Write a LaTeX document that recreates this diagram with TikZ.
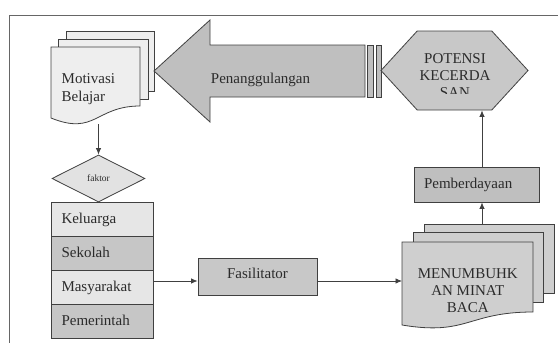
\documentclass[tikz,border=0pt]{standalone}
\usepackage{fontspec}
\setmainfont{Liberation Serif}
\newfontfamily\diagfont{Liberation Serif}
\usetikzlibrary{arrows.meta,shapes.geometric,shapes.symbols}
\definecolor{framegray}{HTML}{666666}
\definecolor{edgegray}{HTML}{404040}
\definecolor{inkgray}{HTML}{2B2B2B}
\definecolor{paperlight}{HTML}{EEEEEE}
\definecolor{papermid}{HTML}{CFCFCF}
\definecolor{arrowgray}{HTML}{BFBFBF}
\definecolor{hexgray}{HTML}{C8C8C8}
\definecolor{rowlight}{HTML}{E6E6E6}
\definecolor{rowdark}{HTML}{C6C6C6}
\definecolor{diamondgray}{HTML}{E2E2E2}

\begin{document}
\begin{tikzpicture}[x=1pt,y=-1pt,>=Latex,
 pg/.style={draw=edgegray,line width=0.8pt},
 lbl/.style={inner sep=0pt,text=inkgray,font=\diagfont\fontsize{15}{17}\selectfont},
 row/.style={draw=edgegray,line width=0.8pt,minimum width=102pt,minimum height=34pt,text width=81pt,inner xsep=10.5pt,inner ysep=0pt,align=left,text height=10pt,text depth=2pt,text=inkgray,font=\diagfont\fontsize{15}{17}\selectfont},
 boxn/.style={draw=edgegray,line width=0.8pt,inner ysep=0pt,text height=10pt,text=inkgray,font=\diagfont\fontsize{15}{17}\selectfont},
 hexa/.style={shape=signal,signal to=west and east,signal pointer angle=95,draw=edgegray,fill=hexgray,line width=0.8pt,minimum width=147pt,minimum height=79pt,inner sep=0pt},
 choice/.style={shape=diamond,draw=edgegray,fill=diamondgray,line width=0.8pt,minimum width=93pt,minimum height=47pt,inner sep=0pt,text=inkgray,font=\diagfont\fontsize{9.5}{11}\selectfont},
 a/.style={-{Latex[length=6.5pt,width=5.5pt]},line width=0.8pt,edgegray}]
\useasboundingbox (0,0) rectangle (558,343);
\begin{scope}
\clip (0,0) rectangle (558,343);
\draw[framegray,line width=0.9pt] (9,15) rectangle (570,360);
\end{scope}

\filldraw[pg,fill=paperlight] (66,31) rectangle (154,91);
\filldraw[pg,fill=paperlight] (58,39) rectangle (148,99);
\filldraw[pg,fill=paperlight] (51,47) -- (140,47) -- (140,106) .. controls (95.5,106) and (95.5,136) .. (51,118) -- cycle;
\node[lbl,anchor=base west,align=left,font=\diagfont\fontsize{15}{18}\selectfont] (motivasi) at (61.5,101) {Motivasi\\Belajar};
\coordinate (motivasi-out) at (98.5,124);

\filldraw[pg,fill=arrowgray] (154,71) -- (210,20) -- (210,45) -- (365,45) -- (365,97) -- (210,97) -- (210,122) -- cycle;
\filldraw[pg,fill=arrowgray] (367.5,45) rectangle (373.5,97);
\filldraw[pg,fill=arrowgray] (376.5,45) rectangle (381,97);
\node[lbl,anchor=base] (penanggulangan) at (260.5,83) {Penanggulangan};

\node[hexa] (potensi) at (454.5,70.5) {};
\begin{scope}
\clip (381,31) rectangle (528,93);
\node[lbl,anchor=base,align=center] (potensi-txt) at (455,97) {POTENSI\\KECERDA\\SAN};
\end{scope}

\node[choice] (faktor) at (98.5,178.5) {faktor};
\foreach \nm/\txt/\fl [count=\i] in {keluarga/Keluarga/rowlight,sekolah/Sekolah/rowdark,masyarakat/Masyarakat/rowlight,pemerintah/Pemerintah/rowdark}
  \node[row,fill=\fl] (\nm) at (102,185+34*\i) {\txt};

\node[boxn,fill=hexgray,minimum width=119pt,minimum height=37pt,text depth=7pt] (fasilitator) at (257.5,276.5) {Fasilitator};
\node[boxn,fill=arrowgray,minimum width=125pt,minimum height=35pt,text width=105pt,inner xsep=10pt,align=left,text depth=3pt] (pemberdayaan) at (476.5,184.5) {Pemberdayaan};

\filldraw[pg,fill=papermid] (424,224) rectangle (554,293);
\filldraw[pg,fill=papermid] (413,232) rectangle (543,302);
\filldraw[pg,fill=papermid] (402,242) -- (533,242) -- (533,312) .. controls (467.5,312) and (467.5,336) .. (402,325) -- cycle;
\node[lbl,anchor=base,align=center] (menumbuh) at (467.8,312) {MENUMBUHK\\AN MINAT\\BACA};
\coordinate (menumbuh-in) at (402,281);
\coordinate (menumbuh-top) at (482,224);

\draw[a] (motivasi-out) -- (faktor.north);
\draw[a] ([yshift=6pt]masyarakat.east) -- ([yshift=6pt]masyarakat.east -| fasilitator.west);
\draw[a] ([yshift=-4.5pt]fasilitator.east) -- (menumbuh-in);
\draw[a] (menumbuh-top) -- (menumbuh-top |- pemberdayaan.south);
\draw[a] ([xshift=5.5pt]pemberdayaan.north) -- ([xshift=5.5pt]pemberdayaan.north |- potensi.south);
\end{tikzpicture}
\end{document}
